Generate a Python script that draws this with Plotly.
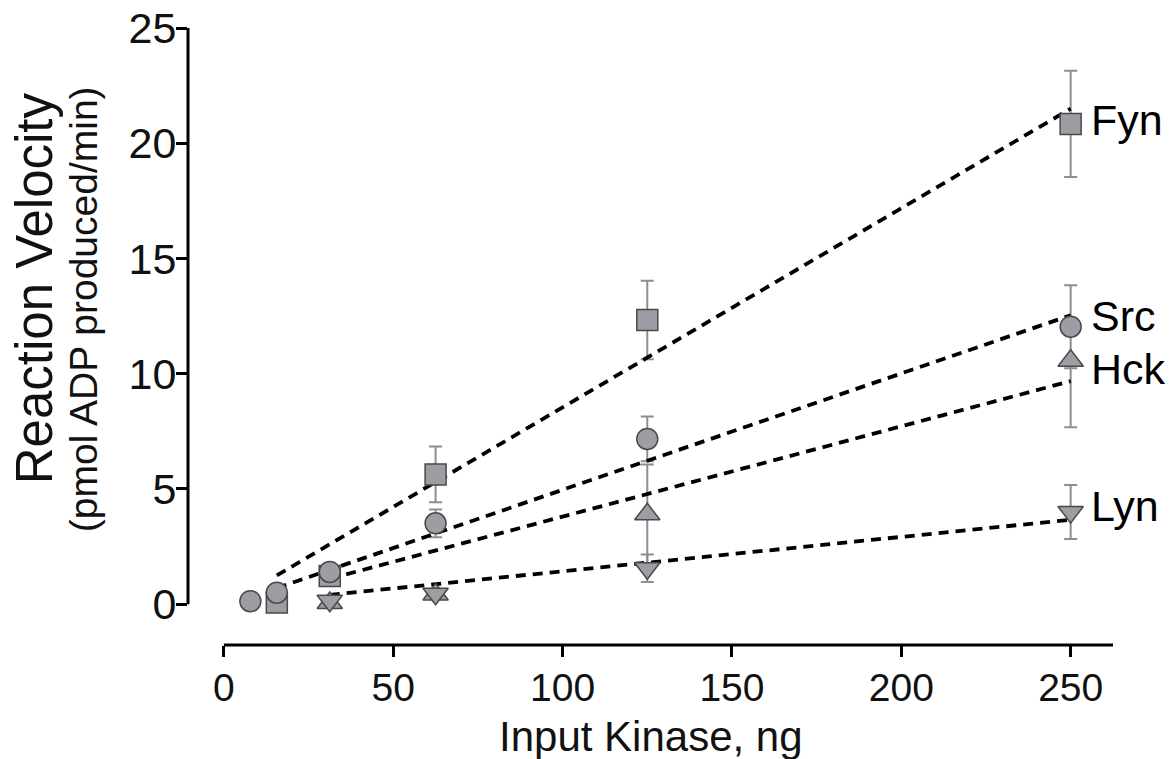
import numpy as np
import plotly.graph_objects as go

# Kinase dose-response: reaction velocity (pmol ADP produced/min) vs input kinase (ng)
series_names = ["Fyn", "Src", "Hck", "Lyn"]

fyn_x = [15.625, 31.25, 62.5, 125, 250]
fyn_y = [0.07, 1.22, 5.63, 12.33, 20.84]
fyn_err_hi = [0.10, 0.20, 1.21, 1.70, 2.30]
fyn_err_lo = [0.07, 0.20, 1.21, 1.70, 2.30]

src_x = [7.8125, 15.625, 31.25, 62.5, 125, 250]
src_y = [0.13, 0.50, 1.40, 3.51, 7.17, 12.04]
src_err_hi = [0.10, 0.15, 0.20, 0.60, 0.97, 1.80]
src_err_lo = [0.10, 0.15, 0.20, 0.60, 0.97, 1.80]

hck_x = [31.25, 62.5, 125, 250]
hck_y = [0.05, 0.42, 3.90, 10.56]
hck_err_hi = [0.10, 0.10, 2.16, 0.00]
hck_err_lo = [0.05, 0.10, 2.16, 2.88]

lyn_x = [31.25, 62.5, 125, 250]
lyn_y = [0.15, 0.45, 1.56, 4.00]
lyn_err_hi = [0.10, 0.10, 0.60, 1.17]
lyn_err_lo = [0.10, 0.10, 0.60, 1.17]

# Linear regression lines: slope, intercept, fitted x-range
fit_slope = [0.0864, 0.0505, 0.0392, 0.0149]
fit_intercept = [-0.10, -0.087, -0.12, -0.06]
fit_x_start = [15.625, 15.625, 31.25, 31.25]
fit_x_end = [250, 250, 250, 250]

# Series label positions at the right-hand end
label_y = [21.0, 12.5, 10.22, 4.25]

x_ticks = [0, 50, 100, 150, 200, 250]
y_ticks = [0, 5, 10, 15, 20, 25]

FONT = "Liberation Sans, Arial, Helvetica, sans-serif"
FILL = "#9d9da4"
EDGE = "#4a4a4a"
ERR = "#8e8e8e"
TXT = "#111111"

data = {
    "Fyn": (fyn_x, fyn_y, fyn_err_hi, fyn_err_lo, "square", 21),
    "Src": (src_x, src_y, src_err_hi, src_err_lo, "circle", 21),
    "Hck": (hck_x, hck_y, hck_err_hi, hck_err_lo, "triangle-up", 22),
    "Lyn": (lyn_x, lyn_y, lyn_err_hi, lyn_err_lo, "triangle-down", 22),
}

fig = go.Figure()

# error bars (drawn beneath everything else)
for name in series_names:
    x, y, ehi, elo, sym, sz = data[name]
    fig.add_trace(go.Scatter(
        x=x, y=y, mode="markers",
        marker=dict(color="rgba(0,0,0,0)", size=2),
        error_y=dict(type="data", array=ehi, arrayminus=elo, symmetric=False,
                     color=ERR, thickness=2, width=6.5),
        hoverinfo="skip", showlegend=False,
    ))

# dashed regression lines
for i, name in enumerate(series_names):
    xs = np.array([fit_x_start[i], fit_x_end[i]])
    ys = fit_slope[i] * xs + fit_intercept[i]
    fig.add_trace(go.Scatter(
        x=xs, y=ys, mode="lines",
        line=dict(color="black", width=3.8, dash="10px,7px"),
        hoverinfo="skip", showlegend=False,
    ))

# markers
for name in ["Fyn", "Hck", "Lyn", "Src"]:
    x, y, ehi, elo, sym, sz = data[name]
    fig.add_trace(go.Scatter(
        x=x, y=y, mode="markers", name=name,
        marker=dict(symbol=sym, size=sz, color=FILL,
                    line=dict(color=EDGE, width=1.5)),
        showlegend=False,
    ))

# series labels
for name, ly in zip(series_names, label_y):
    fig.add_annotation(x=255.5, y=ly, xref="x", yref="y", text=name,
                       showarrow=False, xanchor="left", yanchor="middle",
                       font=dict(family=FONT, size=43, color="black"))

# offset axis lines
fig.add_shape(type="line", xref="paper", yref="y", x0=0, x1=0, y0=0, y1=25,
              line=dict(color="black", width=3))
fig.add_shape(type="line", xref="x", yref="paper", x0=0, x1=262.5, y0=0, y1=0,
              line=dict(color="black", width=3))

# axis titles
fig.add_annotation(x=-0.166, y=0.579, xref="paper", yref="paper",
                   text="Reaction Velocity", textangle=-90, showarrow=False,
                   xanchor="center", yanchor="middle",
                   font=dict(family=FONT, size=51, color=TXT))
fig.add_annotation(x=-0.113, y=0.545, xref="paper", yref="paper",
                   text="(pmol ADP produced/min)", textangle=-90, showarrow=False,
                   xanchor="center", yanchor="middle",
                   font=dict(family=FONT, size=39, color=TXT))
fig.add_annotation(x=0.5, y=-0.148, xref="paper", yref="paper",
                   text="Input Kinase, ng", showarrow=False,
                   xanchor="center", yanchor="middle",
                   font=dict(family=FONT, size=42, color=TXT))

fig.update_xaxes(range=[-10.6, 262.5], tickvals=x_ticks, ticktext=[str(v) for v in x_ticks],
                 showline=False, showgrid=False, zeroline=False, automargin=False,
                 ticks="outside", ticklen=11, tickwidth=2.5, tickcolor="black",
                 ticklabelstandoff=-3,
                 tickfont=dict(family=FONT, size=39, color=TXT))
fig.update_yaxes(range=[-1.77, 25.0], tickvals=y_ticks, ticktext=[str(v) for v in y_ticks],
                 showline=False, showgrid=False, zeroline=False, automargin=False,
                 ticks="outside", ticklen=11, tickwidth=2.5, tickcolor="black",
                 ticklabelstandoff=-9,
                 tickfont=dict(family=FONT, size=43, color=TXT))

fig.update_layout(
    width=1176, height=759,
    margin=dict(l=188, r=63, t=28, b=114),
    plot_bgcolor="white", paper_bgcolor="white",
    showlegend=False,
)

fig.write_html("out.html")
